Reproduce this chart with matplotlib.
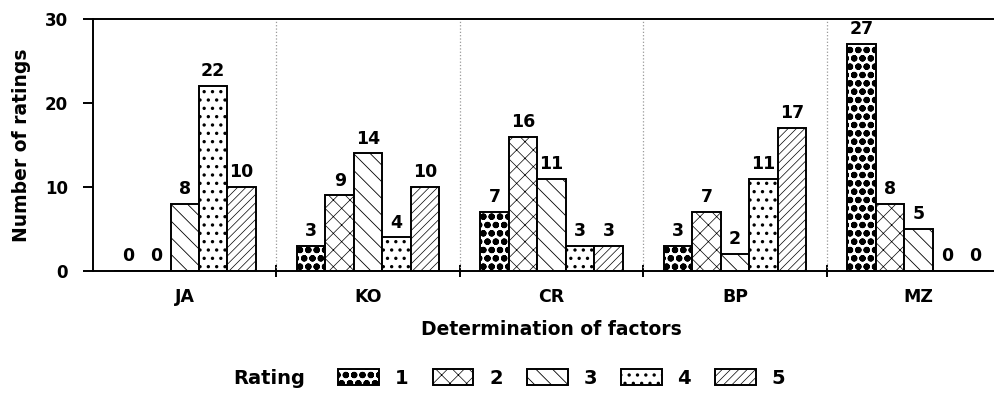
import numpy as np
import matplotlib.pyplot as plt
from matplotlib.patches import Patch

plt.rcParams['font.family'] = ['DejaVu Sans']
plt.rcParams['font.weight'] = 'bold'

factors = ['JA', 'KO', 'CR', 'BP', 'MZ']
ratings = ['1', '2', '3', '4', '5']
r1 = [0, 3, 7, 3, 27]
r2 = [0, 9, 16, 7, 8]
r3 = [8, 14, 11, 2, 5]
r4 = [22, 4, 3, 11, 0]
r5 = [10, 10, 3, 17, 0]
series = [r1, r2, r3, r4, r5]
hatches = ['oo', 'xx', '\\\\', '..', '////']
hatch_lw = [2.2, 0.5, 0.6, 1.2, 0.5]


def set_hlw(patch, lw):
    # per-artist hatch width (matplotlib >= 3.10)
    if hasattr(patch, 'set_hatch_linewidth'):
        patch.set_hatch_linewidth(lw)


fig = plt.figure(figsize=(9.95, 3.94), dpi=100)
ax = fig.add_axes([0.0935, 0.312, 0.9216, 0.640])

x = np.arange(len(factors))
w = 0.155
handles = []
for i, vals in enumerate(series):
    pos = x + (i - 2) * w
    bars = ax.bar(pos, vals, w, color='white', edgecolor='black', linewidth=1.4,
                  hatch=hatches[i])
    for b in bars:
        set_hlw(b, hatch_lw[i])
    handles.append(Patch(facecolor='white', edgecolor='black', hatch=hatches[i],
                         linewidth=1.4))
    for p, v in zip(pos, vals):
        ax.text(p, v + 0.7, str(v), ha='center', va='bottom',
                fontsize=12.5, fontweight='bold')

for b in [0.5, 1.5, 2.5, 3.5]:
    ax.axvline(b, color='#999999', linestyle=':', linewidth=0.9)

ax.set_xlim(-0.5, 4.5)
ax.set_ylim(0, 30)
ax.set_yticks([0, 10, 20, 30])
ax.set_xticks([0.5, 1.5, 2.5, 3.5])
ax.set_xticklabels([])
ax.set_xticks(x, minor=True)
ax.set_xticklabels(factors, minor=True)
ax.tick_params(axis='x', which='minor', length=0, pad=12, labelsize=12.5)
ax.tick_params(axis='x', which='major', direction='inout', length=8, width=1.4)
ax.tick_params(axis='y', direction='out', length=7, width=1.4, labelsize=12, pad=11)
for lab in ax.get_xticklabels(minor=True) + ax.get_yticklabels():
    lab.set_fontweight('bold')
ax.spines['right'].set_visible(False)
for s in ['left', 'bottom', 'top']:
    ax.spines[s].set_linewidth(1.4)

ax.set_ylabel('Number of ratings', fontsize=13.5, fontweight='bold', labelpad=10)
ax.set_xlabel('Determination of factors', fontsize=13.5, fontweight='bold', labelpad=10)

fig.text(0.234, 0.04, 'Rating', ha='left', va='center', fontsize=14, fontweight='bold')
leg = fig.legend(handles, ratings, loc='center left', bbox_to_anchor=(0.34, 0.04),
                 ncol=5, frameon=False, fontsize=14, handlelength=2.1,
                 handleheight=0.95, handletextpad=0.8, columnspacing=1.25,
                 borderpad=0, borderaxespad=0)
for t in leg.get_texts():
    t.set_fontweight('bold')
for h, lw in zip(leg.legend_handles, hatch_lw):
    set_hlw(h, lw)

fig.savefig('out.png', dpi=100)
